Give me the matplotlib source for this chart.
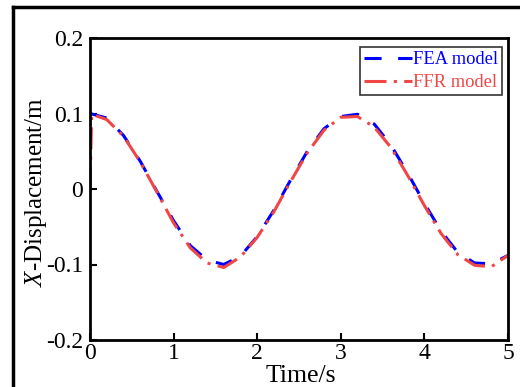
import matplotlib
matplotlib.use("Agg")
import matplotlib.pyplot as plt
from matplotlib.lines import Line2D

plt.rcParams['font.family'] = ['Liberation Serif', 'DejaVu Serif']
plt.rcParams['mathtext.fontset'] = 'custom'
plt.rcParams['mathtext.it'] = 'Liberation Serif:italic'
plt.rcParams['mathtext.rm'] = 'Liberation Serif'

# FEA model (blue dashed)
t_fea = [0.0, 0.2, 0.4, 0.6, 0.8, 1.0, 1.2, 1.4, 1.6, 1.8, 2.0, 2.2, 2.4,
         2.6, 2.8, 3.0, 3.2, 3.4, 3.6, 3.8, 4.0, 4.2, 4.4, 4.6, 4.8, 5.0]
x_fea = [0.100, 0.094, 0.071, 0.037, -0.003, -0.042, -0.075, -0.094, -0.100,
         -0.089, -0.063, -0.028, 0.012, 0.050, 0.080, 0.096, 0.099, 0.086,
         0.058, 0.021, -0.019, -0.056, -0.084, -0.098, -0.099, -0.088]

# FFR model (red dash-dot)
t_ffr = [0.0, 0.02, 0.2, 0.4, 0.6, 0.8, 1.0, 1.2, 1.4, 1.6, 1.8, 2.0, 2.2,
         2.4, 2.6, 2.8, 3.0, 3.2, 3.4, 3.6, 3.8, 4.0, 4.2, 4.4, 4.6, 4.8, 5.0]
x_ffr = [0.000, 0.099, 0.092, 0.070, 0.036, -0.004, -0.045, -0.078, -0.098,
         -0.104, -0.090, -0.064, -0.030, 0.010, 0.048, 0.078, 0.095, 0.096,
         0.082, 0.055, 0.018, -0.022, -0.059, -0.087, -0.101, -0.103, -0.088]

xticks = [0, 1, 2, 3, 4, 5]
yticks = [-0.2, -0.1, 0.0, 0.1, 0.2]
ytick_labels = ['-0.2', '-0.1', '0', '0.1', '0.2']

fig = plt.figure(figsize=(5.2, 3.87), dpi=100)
ax = fig.add_axes([90/520, 1 - 340/387, (508 - 90)/520, (340 - 38)/387])

blue = '#0000ff'
red = '#f04646'
ax.plot(t_fea, x_fea, color=blue, lw=2.2, ls=(0, (5.6, 5.4)), label='FEA model')
ax.plot(t_ffr, x_ffr, color=red, lw=2.2, ls=(0, (7.2, 2.4, 1.0, 2.4)), label='FFR model')

ax.set_xlim(0, 5)
ax.set_ylim(-0.2, 0.2)
ax.set_xticks(xticks)
ax.set_xticklabels([str(v) for v in xticks])
ax.set_yticks(yticks)
ax.set_yticklabels(ytick_labels)
ax.tick_params(direction='in', length=5, width=1.5, labelsize=17)
ax.tick_params(axis='x', pad=2)
ax.tick_params(axis='y', pad=5)
for s in ax.spines.values():
    s.set_linewidth(2)

ax.set_xlabel('Time/s', fontsize=18.5)
ax.xaxis.set_label_coords(0.505, -0.082)
ax.set_ylabel(r'$\mathit{X}$-Displacement/m', fontsize=18)
ax.yaxis.set_label_coords(-0.098, 0.49)

leg = ax.legend(loc='upper right', bbox_to_anchor=((502 - 90)/418, (340 - 47)/302),
                fontsize=13.3, frameon=True, fancybox=False,
                edgecolor='#333333', framealpha=1, handlelength=2.6,
                handletextpad=0.05, borderpad=0.22, labelspacing=0.33,
                borderaxespad=0)
leg.get_frame().set_linewidth(1.2)
for txt, c in zip(leg.get_texts(), [blue, red]):
    txt.set_color(c)

# figure border (left and top visible)
fig.add_artist(Line2D([13/520, 13/520], [0, 1 - 7/387], transform=fig.transFigure,
                      color='black', lw=2.5))
fig.add_artist(Line2D([13/520, 1], [1 - 7/387, 1 - 7/387], transform=fig.transFigure,
                      color='black', lw=2.5))

fig.savefig('out.png', dpi=100)
